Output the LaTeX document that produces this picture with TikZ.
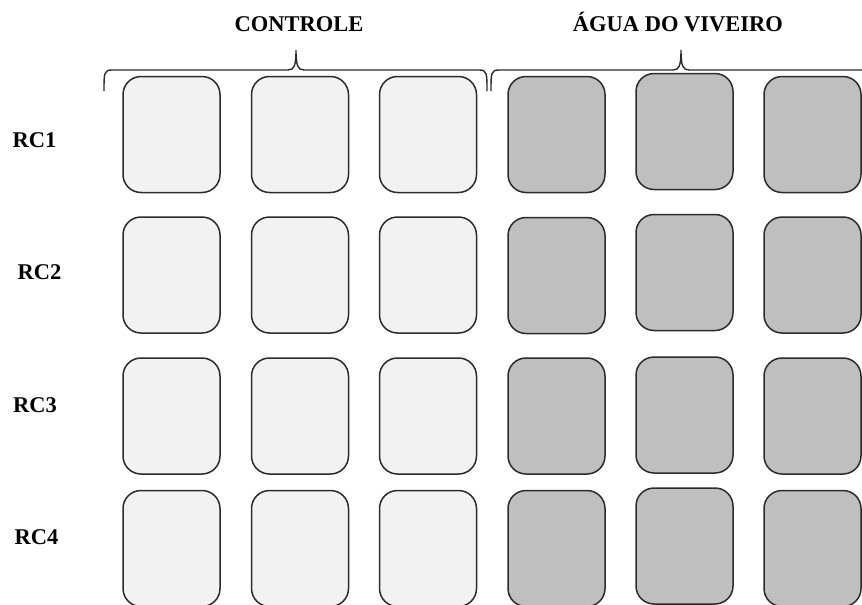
\documentclass[tikz,border=0pt]{standalone}
\usepackage{fontspec}
\setmainfont{Liberation Serif}
\definecolor{lightbox}{HTML}{F2F2F2}
\definecolor{darkbox}{HTML}{BFBFBF}
\definecolor{edge}{HTML}{2B2B2B}
\begin{document}
\begin{tikzpicture}[x=1pt,y=-1pt,
  tank/.style={draw=edge,line width=1.5pt,rounded corners=18pt,minimum width=97pt,minimum height=116pt,inner sep=0pt},
  ctrl/.style={tank,fill=lightbox},
  pond/.style={tank,fill=darkbox},
  lbl/.style={font=\fontsize{22.5}{26}\selectfont\bfseries,inner sep=0pt,anchor=base},
  brace/.style={draw=edge,line width=1.4pt}]
\useasboundingbox (0,0) rectangle (862,605);
% titles
\node[lbl] (tc) at (299,31) {CONTROLE};
\node[lbl] (ta) at (678,31) {ÁGUA DO VIVEIRO};
% row labels
\node[lbl] (r1) at (34.5,147) {RC1};
\node[lbl] (r2) at (39.5,279) {RC2};
\node[lbl] (r3) at (35,412) {RC3};
\node[lbl] (r4) at (36.5,544) {RC4};
% braces
\path[brace] (104,91) .. controls (104,73) and (104,70) .. (112,70) -- (288,70)
  .. controls (294,70) and (296,66) .. (296,50)
  .. controls (296,66) and (298,70) .. (304,70) -- (479,70)
  .. controls (487,70) and (487,73) .. (487,91);
\path[brace] (491,91) .. controls (491,73) and (491,70) .. (499,70) -- (673,70)
  .. controls (679,70) and (681,66) .. (681,50)
  .. controls (681,66) and (683,70) .. (689,70) -- (862,70);
% row 1
\node[ctrl] (a1) at (171.5,134.5) {};
\node[ctrl] (a2) at (300,134.5) {};
\node[ctrl] (a3) at (428,134.5) {};
\node[pond] (a4) at (556.5,134.5) {};
\node[pond] (a5) at (684.5,131.5) {};
\node[pond] (a6) at (812.5,134.5) {};
% row 2
\node[ctrl] (b1) at (171.5,275) {};
\node[ctrl] (b2) at (300,275) {};
\node[ctrl] (b3) at (428,275) {};
\node[pond] (b4) at (556.5,275.5) {};
\node[pond] (b5) at (684.5,272.5) {};
\node[pond] (b6) at (812.5,275) {};
% row 3
\node[ctrl] (c1) at (171.5,416) {};
\node[ctrl] (c2) at (300,416) {};
\node[ctrl] (c3) at (428,416) {};
\node[pond] (c4) at (556.5,416) {};
\node[pond] (c5) at (684.5,415) {};
\node[pond] (c6) at (812.5,416) {};
% row 4
\node[ctrl] (d1) at (171.5,548.5) {};
\node[ctrl] (d2) at (300,548.5) {};
\node[ctrl] (d3) at (428,548.5) {};
\node[pond] (d4) at (556.5,548.5) {};
\node[pond] (d5) at (684.5,546) {};
\node[pond] (d6) at (812.5,548.5) {};
\end{tikzpicture}
\end{document}
